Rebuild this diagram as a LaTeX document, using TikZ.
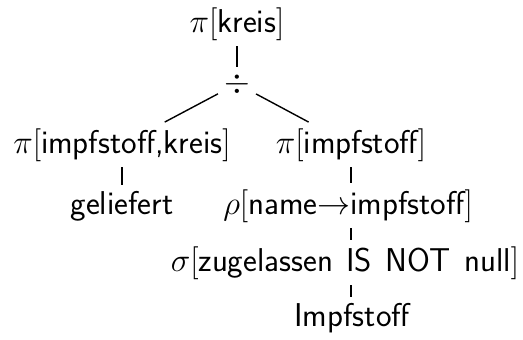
\RequirePackage{fix-cm}
\documentclass[tikz,border=0pt]{standalone}
\usepackage{tikz}
\tikzset{
  op/.style={font=\fontsize{33}{38}\selectfont\sffamily, inner sep=6pt, anchor=base},
  edge/.style={line width=1.4pt, black}
}
\newcommand{\wsp}{\hspace{0.4em}}
\begin{document}
\begin{tikzpicture}[x=1pt,y=1pt]
  \useasboundingbox (0,0) rectangle (523,-340);
  % operator tree
  \node[op] (root)  at (237,-32)  {$\pi[$kreis$]$};
  \node[op] (div)   at (237,-92)  {$\div$};
  \node[op] (pl)    at (122,-153) {$\pi[$impfstoff,kreis$]$};
  \node[op] (pr)    at (351,-153) {$\pi[$impfstoff$]$};
  \node[op] (gel)   at (122,-214) {geliefert};
  \node[op] (rho)   at (348,-214) {$\rho[$name$\rightarrow$impfstoff$]$};
  \node[op] (sig)   at (345,-271) {$\sigma[$zugelassen\wsp IS\wsp NOT\wsp null$]$};
  \node[op] (imp)   at (352,-326) {Impfstoff};
  % edges
  \draw[edge] (root) -- (div);
  \draw[edge] (div) -- (pl);
  \draw[edge] (div) -- (pr);
  \draw[edge] (pl) -- (gel);
  \draw[edge] (pr.south -| 351,0) -- (rho.north -| 351,0);
  \draw[edge] (rho.south -| 351,0) -- (sig.north -| 351,0);
  \draw[edge] (sig.south -| 351,0) -- (imp.north -| 351,0);
\end{tikzpicture}
\end{document}
